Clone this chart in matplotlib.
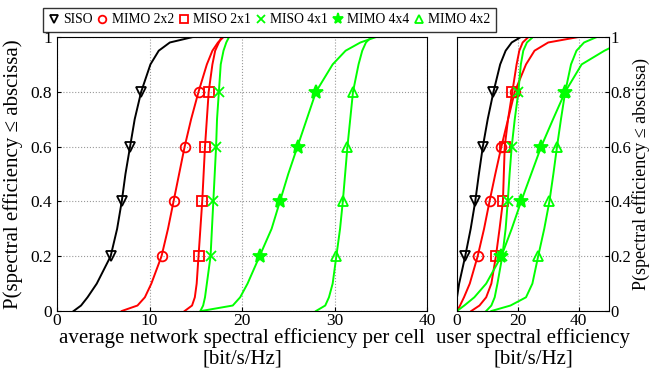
import numpy as np
import matplotlib.pyplot as plt
from matplotlib.lines import Line2D

plt.rcParams['font.family'] = ['Liberation Serif', 'DejaVu Serif']

probs = [0, 0.02, 0.05, 0.1, 0.2, 0.3, 0.4, 0.5, 0.6, 0.7, 0.8, 0.9, 0.95, 0.98, 1.0]
mark_at = [4, 6, 8, 10]  # 0.2, 0.4, 0.6, 0.8

names = ["SISO", "MIMO 2x2", "MISO 2x1", "MISO 4x1", "MIMO 4x4", "MIMO 4x2"]

# left panel: average network spectral efficiency per cell
cell_siso = [1.8, 2.6, 3.3, 4.3, 5.8, 6.5, 7.0, 7.4, 7.9, 8.4, 9.1, 10.1, 11.0, 12.2, 14.7]
cell_mimo22 = [7.0, 8.7, 9.5, 10.2, 11.3, 12.0, 12.6, 13.2, 13.8, 14.5, 15.3, 16.2, 16.8, 17.4, 18.0]
cell_miso21 = [13.8, 14.6, 14.9, 15.1, 15.3, 15.5, 15.7, 15.85, 16.0, 16.2, 16.4, 16.8, 17.1, 17.5, 17.8]
cell_miso41 = [15.5, 15.8, 16.0, 16.2, 16.6, 16.75, 16.9, 17.05, 17.2, 17.3, 17.5, 17.7, 18.0, 18.3, 18.6]
cell_mimo44 = [15.6, 19.0, 19.8, 20.6, 21.9, 23.2, 24.1, 25.0, 26.0, 27.0, 28.0, 29.8, 31.2, 32.8, 34.5]
cell_mimo42 = [28.0, 29.0, 29.4, 29.8, 30.2, 30.6, 30.9, 31.15, 31.4, 31.7, 32.0, 32.6, 33.0, 33.4, 34.0]
cell_tail = [14.7, 22.3, 22.3, 18.6, 38.0, 34.0]

# right panel: user spectral efficiency
user_siso = [0, 0, 0, 0.7, 2.7, 4.5, 6.0, 7.2, 8.5, 10.1, 12.0, 14.2, 16.0, 18.0, 21.0]
user_mimo22 = [0, 1.0, 2.3, 4.2, 6.8, 8.9, 10.7, 12.6, 14.6, 16.8, 19.0, 22.7, 25.5, 30.0, 40.0]
user_miso21 = [4.7, 7.4, 9.6, 11.3, 12.8, 14.0, 15.1, 15.4, 15.7, 16.8, 18.2, 19.6, 20.5, 21.6, 23.5]
user_miso41 = [9.6, 11.3, 12.4, 13.3, 14.9, 16.0, 16.7, 17.3, 18.0, 19.0, 20.2, 21.0, 21.8, 23.0, 25.0]
user_mimo44 = [0, 2.4, 5.7, 9.6, 14.6, 18.0, 21.1, 24.4, 27.7, 31.6, 35.6, 41.0, 48.5, 54.0, 60.0]
user_mimo42 = [11.3, 17.6, 22.7, 24.8, 26.7, 28.7, 30.4, 31.7, 32.9, 34.2, 35.6, 37.5, 39.3, 41.8, 46.0]
user_tail = [21.0, 40.0, 23.5, 25.0, 60.0, 50.0]

green = '#00ff00'
styles = [
    dict(color='k', marker='v', mfc='none'),
    dict(color='#ff0000', marker='o', mfc='none'),
    dict(color='#ff0000', marker='s', mfc='none'),
    dict(color=green, marker='x'),
    dict(color=green, marker='*', ms=10),
    dict(color=green, marker='^', mfc='none'),
]

fig = plt.figure(figsize=(6.51, 3.73), dpi=100)
ax1 = fig.add_axes([57 / 651, 62 / 373, 370 / 651, 274 / 373])
ax2 = fig.add_axes([457 / 651, 62 / 373, 152 / 651, 274 / 373])

cell = [cell_siso, cell_mimo22, cell_miso21, cell_miso41, cell_mimo44, cell_mimo42]
user = [user_siso, user_mimo22, user_miso21, user_miso41, user_mimo44, user_mimo42]

for ax, curves, tails in [(ax1, cell, cell_tail), (ax2, user, user_tail)]:
    for xs, tail, st in zip(curves, tails, styles):
        kw = dict(lw=1.4, ms=7, mew=1.3)
        kw.update(st)
        ax.plot(xs + [tail], probs + [1.0], markevery=mark_at, **kw)
    ax.set_ylim(0, 1)
    ax.set_yticks([0, 0.2, 0.4, 0.6, 0.8, 1])
    ax.set_yticklabels(['0', '0.2', '0.4', '0.6', '0.8', '1'])
    ax.grid(True, linestyle=':', color='0.6', lw=0.8)
    ax.tick_params(direction='in', length=3, pad=1.5, labelsize=12.5)
    ax.set_axisbelow(True)

ylab = 'P(spectral efficiency \u2264 abscissa)'

ax1.set_xlim(0, 40)
ax1.set_xticks([0, 10, 20, 30, 40])
ax1.tick_params(axis='y', pad=3.5)
ax1.set_xlabel('average network spectral efficiency per cell\n[bit/s/Hz]',
               fontsize=15, labelpad=-1, linespacing=1.1)
ax1.set_ylabel(ylab, fontsize=15, va='center')
ax1.yaxis.set_label_coords(-0.118, 0.5)

ax2.set_xlim(0, 50)
ax2.set_xticks([0, 20, 40])
ax2.yaxis.tick_right()
ax2.yaxis.set_label_position('right')
ax2.tick_params(axis='y', labelsize=12, pad=1)
ax2.set_xlabel('user spectral efficiency\n[bit/s/Hz]', fontsize=15,
               labelpad=-1, linespacing=1.1)
ax2.set_ylabel(ylab, fontsize=13, rotation=90, va='center')
ax2.yaxis.set_label_coords(1.208, 0.5)

handles = []
for name, st in zip(names, styles):
    kw = dict(ms=5.5, mew=1.3)
    kw.update(st)
    if st['marker'] == '*':
        kw['ms'] = 8
    handles.append(Line2D([], [], ls='none', **kw))
leg = fig.legend(handles, names, loc='upper left', bbox_to_anchor=(43 / 651, 1 - 8 / 373),
                 ncol=6, fontsize=9.8, frameon=True, fancybox=False, edgecolor='k',
                 handlelength=0.8, handletextpad=0.3, columnspacing=0.3,
                 borderpad=0.4, borderaxespad=0)
leg.get_frame().set_linewidth(1.0)

fig.savefig('out.png', dpi=100)
